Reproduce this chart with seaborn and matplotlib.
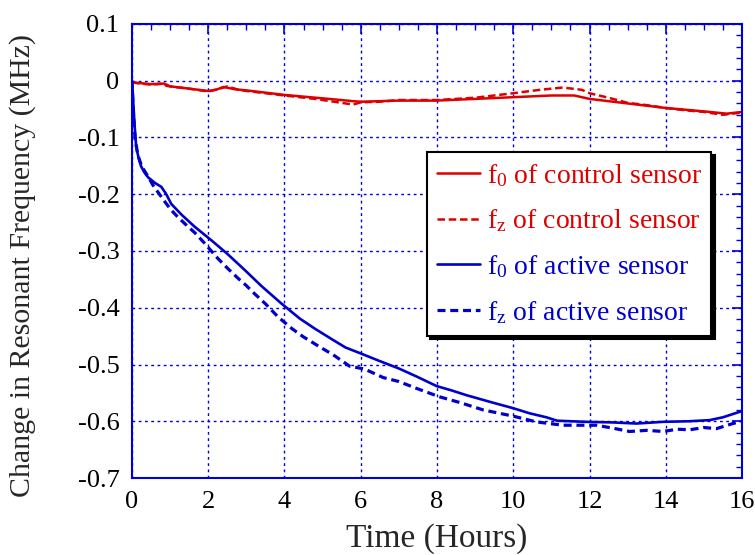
import matplotlib
matplotlib.use("Agg")
import matplotlib.pyplot as plt
import seaborn as sns
import numpy as np
from matplotlib.ticker import MultipleLocator

sns.set_theme(style="white")
plt.rcParams['font.family'] = ['Liberation Serif', 'DejaVu Serif']
plt.rcParams['mathtext.fontset'] = 'custom'
plt.rcParams['mathtext.rm'] = 'Liberation Serif'
plt.rcParams['mathtext.it'] = 'Liberation Serif:italic'

# ---- data ----
ctrl_f0_t = [0, 0.5, 0.85, 0.9, 1.5, 2.0, 2.2, 2.4, 2.7, 3.0, 4.0, 5.0, 5.8, 6.0, 7.0, 8.0,
             9.0, 10.0, 11.0, 11.6, 12.0, 13.0, 14.0, 15.0, 15.6, 16.0]
ctrl_f0_v = [-0.003, -0.006, -0.005, -0.009, -0.014, -0.018, -0.016, -0.011, -0.015, -0.017,
             -0.025, -0.031, -0.036, -0.037, -0.035, -0.035, -0.032, -0.029, -0.026, -0.026,
             -0.032, -0.040, -0.048, -0.054, -0.058, -0.055]

ctrl_fz_t = [0, 0.5, 0.85, 1.0, 1.5, 2.0, 2.3, 2.5, 2.8, 3.0, 4.0, 4.8, 5.2, 5.8, 6.0, 6.5,
             7.0, 8.0, 9.0, 10.0, 10.7, 11.3, 11.8, 12.0, 12.5, 13.0, 13.5, 14.0, 14.5, 15.0,
             15.5, 16.0]
ctrl_fz_v = [-0.003, -0.007, -0.005, -0.010, -0.014, -0.019, -0.014, -0.010, -0.016, -0.018,
             -0.026, -0.032, -0.036, -0.042, -0.038, -0.037, -0.034, -0.034, -0.030, -0.022,
             -0.016, -0.012, -0.016, -0.022, -0.030, -0.039, -0.043, -0.048, -0.052, -0.055,
             -0.060, -0.056]

act_f0_t = [0, 0.02, 0.04, 0.07, 0.11, 0.17, 0.24, 0.33, 0.42, 0.6, 0.77, 0.9, 1.03, 1.3,
            1.64, 2.08, 2.5, 2.95, 3.4, 3.91, 4.4, 4.8, 5.28, 5.6, 5.98, 6.5, 7.0, 7.46, 7.99,
            8.4, 8.77, 9.4, 10.0, 10.43, 10.87, 11.15, 11.9, 12.6, 13.23, 13.93, 14.6, 15.15,
            15.5, 15.68, 16.0]
act_f0_v = [0.0, -0.02, -0.045, -0.08, -0.116, -0.135, -0.151, -0.162, -0.170, -0.180, -0.187,
            -0.200, -0.217, -0.236, -0.257, -0.281, -0.305, -0.333, -0.362, -0.392, -0.419,
            -0.437, -0.457, -0.470, -0.480, -0.494, -0.507, -0.521, -0.538, -0.546, -0.554,
            -0.566, -0.577, -0.586, -0.593, -0.599, -0.601, -0.602, -0.604, -0.601, -0.600,
            -0.598, -0.593, -0.589, -0.582]

act_fz_t = [0, 0.03, 0.08, 0.15, 0.25, 0.33, 0.45, 0.55, 0.7, 0.86, 1.03, 1.2, 1.42, 1.65, 1.9,
            2.25, 2.5, 2.78, 3.0, 3.21, 3.5, 3.83, 4.2, 4.49, 4.9, 5.28, 5.71, 6.1, 6.59, 7.0,
            7.46, 8.07, 8.6, 9.21, 10.0, 10.6, 11.3, 12.18, 12.6, 13.05, 13.5, 13.93, 14.3,
            14.63, 15.0, 15.33, 15.76, 16.0]
act_fz_v = [0.0, -0.05, -0.10, -0.130, -0.150, -0.159, -0.172, -0.184, -0.198, -0.213, -0.228,
            -0.240, -0.254, -0.268, -0.286, -0.313, -0.330, -0.348, -0.361, -0.375, -0.393,
            -0.416, -0.437, -0.451, -0.468, -0.483, -0.503, -0.508, -0.523, -0.530, -0.542,
            -0.557, -0.567, -0.580, -0.591, -0.601, -0.607, -0.607, -0.612, -0.618, -0.616,
            -0.618, -0.614, -0.615, -0.611, -0.613, -0.604, -0.600]

labels = [r"f$_{0}$ of control sensor", r"f$_{\mathrm{z}}$ of control sensor",
          r"f$_{0}$ of active sensor", r"f$_{\mathrm{z}}$ of active sensor"]

RED = "#dd0000"
BLUE = "#0000cc"

fig = plt.figure(figsize=(7.55, 5.55), dpi=100)
ax = fig.add_axes([0.1748, 0.1387, 0.8080, 0.8181])

series = [
    (ctrl_f0_t, ctrl_f0_v, RED, "-", 1.8, labels[0]),
    (ctrl_fz_t, ctrl_fz_v, RED, (0, (3, 1.5)), 1.8, labels[1]),
    (act_f0_t, act_f0_v, BLUE, "-", 1.9, labels[2]),
    (act_fz_t, act_fz_v, BLUE, (0, (2.5, 1.5)), 2.3, labels[3]),
]
for t, v, c, ls, lw, lab in series:
    sns.lineplot(x=t, y=v, ax=ax, color=c, linestyle=ls, linewidth=lw, label=lab,
                 sort=False, estimator=None)

ax.set_xlim(0, 16)
ax.set_ylim(-0.7, 0.1)
ax.xaxis.set_major_locator(MultipleLocator(2))
ax.xaxis.set_minor_locator(MultipleLocator(0.5))
ax.yaxis.set_major_locator(MultipleLocator(0.1))
ax.yaxis.set_minor_locator(MultipleLocator(0.02))
ax.set_yticks(np.arange(-0.7, 0.1001, 0.1))
ax.set_yticklabels(["-0.7", "-0.6", "-0.5", "-0.4", "-0.3", "-0.2", "-0.1", "0", "0.1"])

ax.grid(True, which="major", color="#0000dd", linestyle=(0, (2, 2.5)), linewidth=1.0)
for s in ax.spines.values():
    s.set_color("#0000dd")
    s.set_linewidth(1.5)
ax.tick_params(which="both", direction="in", top=True, right=True, color="#0000dd",
               labelcolor="black", labelsize=19)
ax.tick_params(which="major", length=7, width=1.2, pad=9)
ax.tick_params(which="minor", length=4, width=1.0)

ax.set_xlabel("Time (Hours)", fontsize=24, labelpad=8)
ax.set_ylabel("Change in Resonant Frequency (MHz)", fontsize=21.5)
ax.yaxis.set_label_coords(-0.157, 0.469)

leg = ax.legend(loc="upper left", bbox_to_anchor=(0.4836, 0.718), borderaxespad=0,
                fontsize=20, frameon=True, fancybox=False, handlelength=1.55,
                handletextpad=0.25, labelspacing=0.68, borderpad=0.35,
                shadow={"color": "black", "alpha": 1.0, "ox": 2.5, "oy": -2.5})
leg.get_frame().set_edgecolor("black")
leg.get_frame().set_linewidth(1.5)
leg.get_frame().set_alpha(1.0)
for txt, c in zip(leg.get_texts(), [RED, RED, BLUE, BLUE]):
    txt.set_color(c)

fig.savefig("out.png", dpi=100)
